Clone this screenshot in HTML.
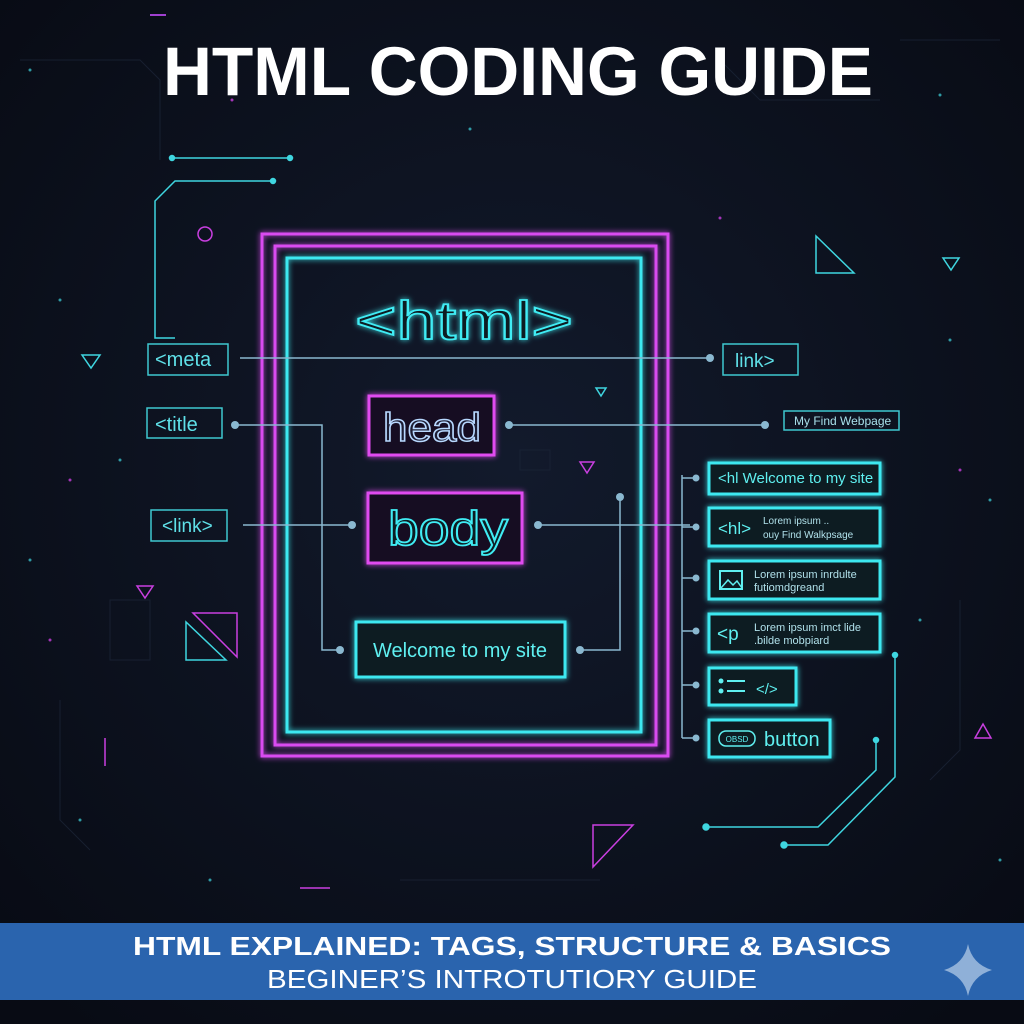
<!DOCTYPE html>
<html><head><meta charset="utf-8"><style>
html,body{margin:0;padding:0;background:#0a0e18;}
svg{display:block}
</style></head><body>
<svg width="1024" height="1024" viewBox="0 0 1024 1024" xmlns="http://www.w3.org/2000/svg" font-family="Liberation Sans, DejaVu Sans, sans-serif">
<defs>
<radialGradient id="bg" cx="50%" cy="45%" r="70%"><stop offset="0" stop-color="#121a2c"/><stop offset="1" stop-color="#080b14"/></radialGradient>
<filter id="glow" x="-20%" y="-20%" width="140%" height="140%"><feGaussianBlur stdDeviation="3" result="b"/><feMerge><feMergeNode in="b"/><feMergeNode in="SourceGraphic"/></feMerge></filter>
</defs>
<rect width="1024" height="1024" fill="url(#bg)"/>
<g stroke="#1a2436" stroke-width="1" fill="none" opacity="0.8">
<path d="M20 60h120l20 20v80M900 40h100M60 700v120l30 30M960 600v150l-30 30M400 880h200M720 60l40 40h120"/>
<rect x="520" y="450" width="30" height="20"/><rect x="110" y="600" width="40" height="60"/>
</g>
<text x="518" y="95" font-size="69" font-weight="bold" fill="#fff" text-anchor="middle" textLength="710" lengthAdjust="spacingAndGlyphs">HTML CODING GUIDE</text>
<g stroke="#3fd6e0" stroke-width="1.5" fill="none">
<path d="M172 158h118"/><circle cx="172" cy="158" r="2.5" fill="#3fd6e0"/><circle cx="290" cy="158" r="2.5" fill="#3fd6e0"/>
<path d="M273 181H175L155 201V338H175"/><circle cx="273" cy="181" r="2.5" fill="#3fd6e0"/>
<path d="M816 236L854 273H816Z"/><path d="M943 258h16l-8 12z"/>
<path d="M82 355h18l-9 13z"/><path d="M596 388h10l-5 8z"/>
<path d="M186 622v38h40z"/>
<path d="M706 827h112l58 -57V740M784 845h44l67 -68V655"/>
<circle cx="706" cy="827" r="3" fill="#3fd6e0"/><circle cx="784" cy="845" r="3" fill="#3fd6e0"/>
<circle cx="876" cy="740" r="2.5" fill="#3fd6e0"/><circle cx="895" cy="655" r="2.5" fill="#3fd6e0"/>
</g>
<g stroke="#c93fe0" stroke-width="1.5" fill="none">
<circle cx="205" cy="234" r="7"/><path d="M193 613h44v44z"/><path d="M580 462h14l-7 11z"/>
<path d="M137 586h16l-8 12z"/><path d="M975 738l8-14 8 14z"/><path d="M593 825h40l-40 42z"/>
<path d="M105 738v28M300 888h30"/>
</g>
<g filter="url(#glow)" fill="none" stroke-width="3">
<rect x="262" y="234" width="406" height="522" stroke="#d94cf0"/>
<rect x="275" y="246" width="381" height="499" stroke="#d94cf0"/>
<rect x="287" y="258" width="354" height="474" stroke="#3ee8f0"/>
</g>
<text x="464" y="339" font-size="54" fill="#0e1a24" stroke="#40ecf4" stroke-width="1.8" text-anchor="middle" textLength="218" lengthAdjust="spacingAndGlyphs" filter="url(#glow)">&lt;html&gt;</text>
<g filter="url(#glow)">
<rect x="369" y="396" width="125" height="59" fill="#150f22" stroke="#e04cf0" stroke-width="3"/>
<text x="432" y="441" font-size="40" fill="#1a1a30" stroke="#b8d8ff" stroke-width="1.5" text-anchor="middle" textLength="98" lengthAdjust="spacingAndGlyphs">head</text>
<rect x="368" y="493" width="154" height="70" fill="#150f22" stroke="#e04cf0" stroke-width="3"/>
<text x="448" y="545" font-size="48" fill="#0e1a24" stroke="#40ecf4" stroke-width="1.8" text-anchor="middle" textLength="120" lengthAdjust="spacingAndGlyphs">body</text>
<rect x="356" y="622" width="209" height="55" fill="#0c1a24" stroke="#3ee8f0" stroke-width="3"/>
<text x="460" y="657" font-size="20" fill="#5ff0f0" text-anchor="middle">Welcome to my site</text>
</g>
<g fill="none" stroke="#3fc8d0" stroke-width="1.5">
<rect x="148" y="344" width="80" height="31"/><rect x="147" y="408" width="75" height="30"/><rect x="151" y="510" width="76" height="31"/>
<rect x="723" y="344" width="75" height="31"/><rect x="784" y="411" width="115" height="19"/>
</g>
<g fill="#5fe0e8" font-size="20">
<text x="155" y="366">&lt;meta</text><text x="155" y="431">&lt;title</text><text x="162" y="532" font-size="19">&lt;link&gt;</text>
<text x="735" y="367" font-size="19">link&gt;</text><text x="794" y="425" font-size="12" fill="#a8e0ea">My Find Webpage</text>
</g>
<g stroke="#8ab8d0" stroke-width="1.5" fill="none">
<path d="M240 358H710"/><path d="M235 425H322V650H340"/><path d="M243 525H352"/>
<path d="M509 425H765"/><path d="M538 525H690"/><path d="M620 497V650H580"/>
<path d="M682 475V738"/>
<path d="M682 478h14M682 527h14M682 578h14M682 631h14M682 685h14M682 738h14"/>
</g>
<g fill="#8ab8d0">
<circle cx="710" cy="358" r="4"/><circle cx="235" cy="425" r="4"/><circle cx="340" cy="650" r="4"/><circle cx="352" cy="525" r="4"/>
<circle cx="509" cy="425" r="4"/><circle cx="538" cy="525" r="4"/><circle cx="620" cy="497" r="4"/><circle cx="580" cy="650" r="4"/>
<circle cx="765" cy="425" r="4"/>
<circle cx="696" cy="478" r="3.5"/><circle cx="696" cy="527" r="3.5"/><circle cx="696" cy="578" r="3.5"/><circle cx="696" cy="631" r="3.5"/><circle cx="696" cy="685" r="3.5"/><circle cx="696" cy="738" r="3.5"/>
</g>
<g filter="url(#glow)" fill="#0c1a24" stroke="#3ee8f0" stroke-width="3">
<rect x="709" y="463" width="171" height="31"/><rect x="709" y="508" width="171" height="38"/>
<rect x="709" y="561" width="171" height="38"/><rect x="709" y="614" width="171" height="38"/>
<rect x="709" y="668" width="87" height="37"/><rect x="709" y="720" width="121" height="37"/>
</g>
<g fill="#5ff0f0">
<text x="718" y="483" font-size="15">&lt;hl Welcome to my site</text>
<text x="718" y="534" font-size="17">&lt;hl&gt;</text>
<text x="763" y="524" font-size="10" fill="#b0e0ea">Lorem ipsum ..</text><text x="763" y="538" font-size="10" fill="#b0e0ea">ouy Find Walkpsage</text>
<rect x="720" y="571" width="22" height="18" fill="none" stroke="#5ff0f0" stroke-width="2"/>
<path d="M721 588l7-8 5 5 4-4 5 7" fill="none" stroke="#5ff0f0" stroke-width="1.5"/>
<text x="754" y="578" font-size="11" fill="#b0e0ea">Lorem ipsum inrdulte</text><text x="754" y="591" font-size="11" fill="#b0e0ea">futiomdgreand</text>
<text x="717" y="640" font-size="19">&lt;p</text>
<text x="754" y="631" font-size="11" fill="#b0e0ea">Lorem ipsum imct lide</text><text x="754" y="644" font-size="11" fill="#b0e0ea">.bilde mobpiard</text>
<circle cx="721" cy="681" r="2.5"/><circle cx="721" cy="691" r="2.5"/>
<rect x="727" y="680" width="18" height="2"/><rect x="727" y="690" width="18" height="2"/>
<text x="756" y="694" font-size="15">&lt;/&gt;</text>
<rect x="719" y="731" width="36" height="15" rx="7" fill="none" stroke="#5ff0f0" stroke-width="1.5"/>
<text x="737" y="742" font-size="8" text-anchor="middle">OBSD</text>
<text x="764" y="746" font-size="20">button</text>
</g>
<g fill="#3fd6e0" opacity="0.7">
<circle cx="30" cy="70" r="1.5"/><circle cx="470" cy="129" r="1.5"/><circle cx="940" cy="95" r="1.5"/><circle cx="60" cy="300" r="1.5"/><circle cx="120" cy="460" r="1.5"/><circle cx="950" cy="340" r="1.5"/><circle cx="990" cy="500" r="1.5"/><circle cx="30" cy="560" r="1.5"/><circle cx="80" cy="820" r="1.5"/><circle cx="920" cy="620" r="1.5"/><circle cx="1000" cy="860" r="1.5"/><circle cx="210" cy="880" r="1.5"/>
</g>
<g fill="#c93fe0" opacity="0.8"><circle cx="232" cy="100" r="1.5"/><circle cx="70" cy="480" r="1.5"/><circle cx="960" cy="470" r="1.5"/><circle cx="50" cy="640" r="1.5"/><circle cx="720" cy="218" r="1.5"/></g>
<rect x="150" y="14" width="16" height="2" fill="#a040d0"/>
<rect x="0" y="923" width="1024" height="77" fill="#2a64ae"/>
<text x="512" y="955" font-size="26" font-weight="bold" fill="#fff" text-anchor="middle" textLength="758" lengthAdjust="spacingAndGlyphs">HTML EXPLAINED: TAGS, STRUCTURE &amp; BASICS</text>
<text x="512" y="988" font-size="26" fill="#fff" text-anchor="middle" textLength="490" lengthAdjust="spacingAndGlyphs">BEGINER’S INTROTUTIORY GUIDE</text>
<path d="M968 944Q972 964 992 970Q972 976 968 996Q964 976 944 970Q964 964 968 944Z" fill="#8fb0d8"/>
</svg>
</body></html>
